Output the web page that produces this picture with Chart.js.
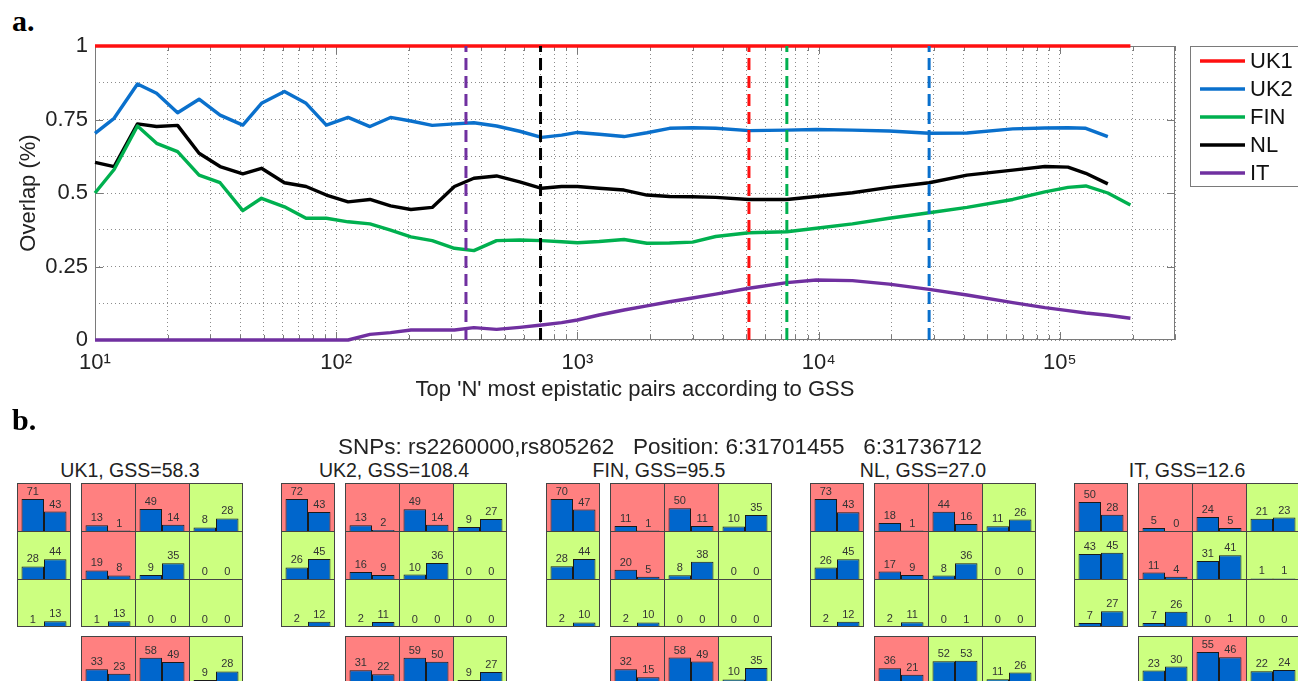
<!DOCTYPE html>
<html lang="en">
<head>
<meta charset="UTF-8">
<title>Overlap of top epistatic pairs and SNP pair counts</title>
<script src="https://cdn.jsdelivr.net/npm/chart.js"></script>
<style>
  body {
    margin: 0;
    width: 1298px;
    height: 681px;
    overflow: hidden;
    position: relative;
    background: #fff;
    color: #222;
    font-family: 'Liberation Sans', Arial, Helvetica, sans-serif;
  }
  .tag {
    position: absolute;
    left: 12px;
    font: bold 30px/30px 'Liberation Serif', 'Times New Roman', serif;
    color: #000;
  }
  #overlapChart { position: absolute; left: 0; top: 0; }
  .caption { position: absolute; white-space: pre; text-align: center; }
  #snpTitle { left: 0; width: 1320px; top: 436px; font-size: 22.5px; line-height: 22.5px; }
  .panelTitle { top: 461px; width: 240px; font-size: 19.5px; line-height: 19.5px; }
  .cellRow { position: absolute; }
</style>
</head>
<body>

<div class="tag" style="top:6px">a.</div>
<canvas id="overlapChart" width="1298" height="410"></canvas>

<div class="tag" style="top:405px">b.</div>
<div id="snpTitle" class="caption">SNPs: rs2260000,rs805262   Position: 6:31701455   6:31736712</div>

<script>
// ---- part a: overlap vs top N pairs ----
const sampleN = [10, 12, 15, 18, 22, 27, 33, 41, 49, 61, 75, 91, 112, 138, 168, 204, 250, 309, 372, 462,
                 576, 710, 860, 1000, 1230, 1560, 1940, 2410, 3000, 3740, 5140, 7380, 9770, 13800, 19600,
                 28700, 41200, 63800, 86700, 108000, 128000, 158000, 196000];
const overlapUK1 = [1, 1, 1, 1, 1, 1, 1, 1, 1, 1, 1, 1, 1, 1, 1, 1, 1, 1, 1, 1, 1, 1,
                    1, 1, 1, 1, 1, 1, 1, 1, 1, 1, 1, 1, 1, 1, 1, 1, 1, 1, 1, 1, 1];
const overlapUK2 = [0.703, 0.754, 0.871, 0.839, 0.773, 0.819, 0.765, 0.731, 0.805, 0.845,
                    0.805, 0.731, 0.757, 0.726, 0.757, 0.745, 0.730, 0.735, 0.739, 0.728,
                    0.710, 0.689, 0.697, 0.706, 0.700, 0.692, 0.705, 0.720, 0.722, 0.720,
                    0.712, 0.714, 0.716, 0.714, 0.711, 0.703, 0.704, 0.718, 0.721, 0.722,
                    0.720, 0.692, null];
const overlapFIN = [0.500, 0.580, 0.728, 0.669, 0.641, 0.561, 0.535, 0.440, 0.482, 0.453,
                    0.414, 0.414, 0.402, 0.395, 0.374, 0.351, 0.338, 0.312, 0.304, 0.338,
                    0.340, 0.338, 0.334, 0.331, 0.335, 0.342, 0.329, 0.330, 0.333, 0.352,
                    0.365, 0.368, 0.380, 0.395, 0.414, 0.433, 0.451, 0.478, 0.504, 0.519,
                    0.524, 0.500, 0.459];
const overlapNL = [0.604, 0.590, 0.735, 0.726, 0.730, 0.635, 0.590, 0.565, 0.584, 0.535,
                   0.522, 0.493, 0.470, 0.478, 0.456, 0.444, 0.451, 0.522, 0.550, 0.558,
                   0.538, 0.516, 0.522, 0.522, 0.516, 0.510, 0.493, 0.488, 0.487, 0.485,
                   0.478, 0.478, 0.488, 0.501, 0.519, 0.535, 0.561, 0.578, 0.590, 0.588,
                   0.567, 0.531, null];
const overlapIT = [0, 0, 0, 0, 0, 0, 0, 0, 0, 0, 0, 0, 0, 0.019, 0.025, 0.034, 0.034, 0.034, 0.042, 0.036,
                   0.043, 0.051, 0.059, 0.068, 0.085, 0.102, 0.116, 0.130, 0.143, 0.156,
                   0.176, 0.195, 0.204, 0.202, 0.190, 0.172, 0.153, 0.127, 0.110, 0.100,
                   0.092, 0.084, 0.074];

const seriesNames = ['UK1', 'UK2', 'FIN', 'NL', 'IT'];
const seriesValues = [overlapUK1, overlapUK2, overlapFIN, overlapNL, overlapIT];
const seriesColors = ['#ff1010', '#0a70cc', '#00b04f', '#000000', '#7030a0'];

// dashed cut-offs (N where each cohort's pair falls)
const cutoffN = [345, 703, 5140, 7380, 28700];
const cutoffSeries = ['IT', 'NL', 'UK1', 'FIN', 'UK2'];

const decades = [10, 100, 1000, 10000, 100000];
const multiples = [1, 2, 3, 4, 5, 6, 7, 8, 9];
const xMax = 300000;
const supers = { 1: '\u00b9', 2: '\u00b2', 3: '\u00b3', 4: '\u2074', 5: '\u2075' };

// ---- part b: counts per cell (two bars each) ----
const panelNames = ['UK1', 'UK2', 'FIN', 'NL', 'IT'];
const panelGSS = ['58.3', '108.4', '95.5', '27.0', '12.6'];

const uk1Left = [[71, 43], [28, 44], [1, 13]];
const uk1Grid = [[13, 1], [49, 14], [8, 28], [19, 8], [9, 35], [0, 0], [1, 13], [0, 0], [0, 0]];
const uk1Bottom = [[33, 23], [58, 49], [9, 28]];
const uk1Shade = ['RGG', 'RRG', 'RGG', 'GGG', 'RRG'];

const uk2Left = [[72, 43], [26, 45], [2, 12]];
const uk2Grid = [[13, 2], [49, 14], [9, 27], [16, 9], [10, 36], [0, 0], [2, 11], [0, 0], [0, 0]];
const uk2Bottom = [[31, 22], [59, 50], [9, 27]];
const uk2Shade = ['RGG', 'RRG', 'RGG', 'GGG', 'RRG'];

const finLeft = [[70, 47], [28, 44], [2, 10]];
const finGrid = [[11, 1], [50, 11], [10, 35], [20, 5], [8, 38], [0, 0], [2, 10], [0, 0], [0, 0]];
const finBottom = [[32, 15], [58, 49], [10, 35]];
const finShade = ['RGG', 'RRG', 'RGG', 'GGG', 'RRG'];

const nlLeft = [[73, 43], [26, 45], [2, 12]];
const nlGrid = [[18, 1], [44, 16], [11, 26], [17, 9], [8, 36], [0, 0], [2, 11], [0, 1], [0, 0]];
const nlBottom = [[36, 21], [52, 53], [11, 26]];
const nlShade = ['RGG', 'RRG', 'RGG', 'GGG', 'RGG'];

const itLeft = [[50, 28], [43, 45], [7, 27]];
const itGrid = [[5, 0], [24, 5], [21, 23], [11, 4], [31, 41], [1, 1], [7, 26], [0, 1], [0, 0]];
const itBottom = [[23, 30], [55, 46], [22, 24]];
const itShade = ['RGG', 'RRG', 'RGG', 'GGG', 'GRG'];

const panelLeft = [uk1Left, uk2Left, finLeft, nlLeft, itLeft];
const panelGrid = [uk1Grid, uk2Grid, finGrid, nlGrid, itGrid];
const panelBottom = [uk1Bottom, uk2Bottom, finBottom, nlBottom, itBottom];
const panelShade = [uk1Shade, uk2Shade, finShade, nlShade, itShade];

Chart.defaults.font.family = "'Liberation Sans', Arial, Helvetica, sans-serif";
Chart.defaults.color = '#222';

// ---------- part a ----------
const gridTicks = [];
decades.forEach(d => multiples.forEach(m => { if (d * m <= xMax) gridTicks.push(d * m); }));
gridTicks.push(xMax);

function powerLabel(v) {
  const e = Math.log10(v);
  if (Math.abs(e - Math.round(e)) > 1e-9) return '';
  return '10' + supers[Math.round(e)];
}

const colorOf = name => seriesColors[seriesNames.indexOf(name)];

const solidSets = seriesNames.map((name, i) => ({
  label: name,
  data: sampleN.map((n, j) => ({ x: n, y: seriesValues[i][j] })),
  borderColor: seriesColors[i],
  backgroundColor: seriesColors[i],
  borderWidth: 3.4,
  clip: 6,
  order: 1
}));

const dashedSets = cutoffN.map((n, i) => ({
  label: cutoffSeries[i] + ' cut-off',
  data: [{ x: n, y: 0 }, { x: n, y: 1 }],
  borderColor: colorOf(cutoffSeries[i]),
  backgroundColor: colorOf(cutoffSeries[i]),
  borderWidth: 3,
  borderDash: [12, 6],
  order: 0
}));

const frameAndLegend = {
  id: 'frameAndLegend',
  beforeDatasetsDraw(chart) {
    const { ctx, chartArea: a, scales: { x, y } } = chart;
    ctx.save();
    ctx.strokeStyle = '#7a7a7a';
    ctx.lineWidth = 1;
    ctx.strokeRect(a.left + 0.5, a.top + 0.5, a.width - 1, a.height - 1);
    ctx.beginPath();
    gridTicks.forEach(v => {
      const px = Math.round(x.getPixelForValue(v)) + 0.5;
      const len = powerLabel(v) ? 8 : 5;
      ctx.moveTo(px, a.bottom); ctx.lineTo(px, a.bottom - len);
      ctx.moveTo(px, a.top); ctx.lineTo(px, a.top + len);
    });
    [0.25, 0.5, 0.75].forEach(v => {
      const py = Math.round(y.getPixelForValue(v)) + 0.5;
      ctx.moveTo(a.left, py); ctx.lineTo(a.left + 8, py);
      ctx.moveTo(a.right, py); ctx.lineTo(a.right - 8, py);
    });
    ctx.stroke();
    ctx.restore();
  },
  afterDraw(chart) {
    const { ctx } = chart;
    ctx.save();
    ctx.fillStyle = '#fff';
    ctx.fillRect(1190, 46, 130, 140);
    ctx.strokeStyle = '#7a7a7a';
    ctx.lineWidth = 1;
    ctx.strokeRect(1190.5, 46.5, 130, 140);
    ctx.font = "22px 'Liberation Sans', Arial, sans-serif";
    ctx.textBaseline = 'middle';
    ctx.textAlign = 'left';
    seriesNames.forEach((name, i) => {
      const yy = 61 + i * 28;
      ctx.strokeStyle = seriesColors[i];
      ctx.lineWidth = 3.5;
      ctx.beginPath();
      ctx.moveTo(1200, yy); ctx.lineTo(1245, yy);
      ctx.stroke();
      ctx.fillStyle = '#111';
      ctx.fillText(name, 1250, yy + 1);
    });
    ctx.restore();
  }
};

new Chart(document.getElementById('overlapChart'), {
  type: 'line',
  data: { datasets: solidSets.concat(dashedSets) },
  options: {
    responsive: false,
    animation: false,
    events: [],
    layout: { padding: { left: 0, right: 123, top: 46, bottom: 0 } },
    elements: { point: { radius: 0 }, line: { tension: 0, borderJoinStyle: 'round' } },
    scales: {
      x: {
        type: 'logarithmic',
        min: 10,
        max: xMax,
        afterFit: s => { s.height = 70; },
        afterBuildTicks: s => { s.ticks = gridTicks.map(v => ({ value: v })); },
        ticks: { autoSkip: false, maxRotation: 0, padding: 10, color: '#222', font: { size: 22 }, callback: v => powerLabel(v) },
        grid: { color: '#8c8c8c', lineWidth: 1, drawTicks: false },
        border: { display: false, dash: [1, 3] },
        title: { display: true, text: "Top 'N' most epistatic pairs according to GSS", color: '#222', font: { size: 22 }, padding: { top: 0, bottom: 7 } }
      },
      y: {
        min: 0,
        max: 1,
        afterFit: s => { s.width = 95; },
        ticks: {
          stepSize: 0.125,
          autoSkip: false,
          padding: 7,
          color: '#222',
          font: { size: 22 },
          callback: v => (Math.abs(v * 4 - Math.round(v * 4)) < 1e-9 ? String(v) : '')
        },
        grid: { color: '#8c8c8c', lineWidth: 1, drawTicks: false },
        border: { display: false, dash: [1, 3] },
        title: { display: true, text: 'Overlap (%)', color: '#222', font: { size: 22 }, padding: { top: 16, bottom: 0 } }
      }
    },
    plugins: { legend: { display: false }, tooltip: { enabled: false }, colors: { enabled: false } }
  },
  plugins: [frameAndLegend]
});

// ---------- part b ----------
const cellPlugin = {
  id: 'cellShade',
  beforeDatasetsDraw(chart, args, opts) {
    const { ctx, chartArea: a } = chart;
    const n = chart.data.labels.length;
    const w = a.width / n;
    ctx.save();
    for (let i = 0; i < n; i++) {
      ctx.fillStyle = opts.shades[i] === 'R' ? '#ff8080' : '#ccff80';
      ctx.fillRect(a.left + i * w, a.top, w, a.height);
    }
    ctx.restore();
  },
  afterDatasetsDraw(chart, args, opts) {
    const { ctx, chartArea: a } = chart;
    const n = chart.data.labels.length;
    const w = a.width / n;
    ctx.save();
    ctx.font = "11px 'Liberation Sans', Arial, sans-serif";
    ctx.fillStyle = '#333';
    ctx.textAlign = 'center';
    ctx.textBaseline = 'bottom';
    chart.data.datasets.forEach((ds, di) => {
      chart.getDatasetMeta(di).data.forEach((el, j) => {
        ctx.fillText(String(ds.data[j]), el.x, el.y - 1.5);
      });
    });
    ctx.strokeStyle = '#444';
    ctx.lineWidth = 1;
    ctx.beginPath();
    for (let i = 0; i <= n; i++) {
      const px = i === n ? a.right - 0.5 : Math.round(a.left + i * w) + 0.5;
      ctx.moveTo(px, a.top); ctx.lineTo(px, a.bottom);
    }
    ctx.moveTo(a.left, a.top + 0.5); ctx.lineTo(a.right, a.top + 0.5);
    if (opts.closeBottom) { ctx.moveTo(a.left, a.bottom - 0.5); ctx.lineTo(a.right, a.bottom - 0.5); }
    ctx.stroke();
    ctx.restore();
  }
};

const cellW = 54, cellH = 48;
const colLeft = 17, gridLeft = 81, gridTop = 483, lowTop = 636, panelStep = 264.3;

function barSet(values) {
  return {
    data: values,
    backgroundColor: '#0066cc',
    borderColor: '#1a1a1a',
    borderWidth: 1,
    categoryPercentage: 0.833,
    barPercentage: 1
  };
}

function rowChart(x, y, pairs, shades, yMax, closeBottom) {
  const cv = document.createElement('canvas');
  cv.className = 'cellRow';
  cv.width = pairs.length * cellW;
  cv.height = cellH;
  cv.style.left = Math.round(x) + 'px';
  cv.style.top = y + 'px';
  document.body.appendChild(cv);
  return new Chart(cv, {
    type: 'bar',
    data: {
      labels: pairs.map((p, i) => i),
      datasets: [barSet(pairs.map(p => p[0])), barSet(pairs.map(p => p[1]))]
    },
    options: {
      responsive: false,
      animation: false,
      events: [],
      layout: { padding: 0 },
      scales: {
        x: { display: false },
        y: { display: false, min: 0, max: yMax }
      },
      plugins: {
        legend: { display: false },
        tooltip: { enabled: false },
        colors: { enabled: false },
        cellShade: { shades: shades, closeBottom: closeBottom }
      }
    },
    plugins: [cellPlugin]
  });
}

panelNames.forEach((name, k) => {
  const ox = k * panelStep;
  const left = panelLeft[k], grid = panelGrid[k], low = panelBottom[k], shade = panelShade[k];
  const yMax = Math.max(...left.concat(grid, low).flat()) * 1.5;

  const t = document.createElement('div');
  t.className = 'caption panelTitle';
  t.style.left = Math.round(130 + ox - 120) + 'px';
  t.textContent = name + ', GSS=' + panelGSS[k];
  document.body.appendChild(t);

  left.forEach((pair, r) => rowChart(colLeft + ox, gridTop + r * cellH, [pair], shade[0][r], yMax, r === 2));
  for (let r = 0; r < 3; r++) {
    rowChart(gridLeft + ox, gridTop + r * cellH, grid.slice(r * 3, r * 3 + 3), shade[1 + r], yMax, r === 2);
  }
  rowChart(gridLeft + ox, lowTop, low, shade[4], yMax, true);
});
</script>
</body>
</html>
